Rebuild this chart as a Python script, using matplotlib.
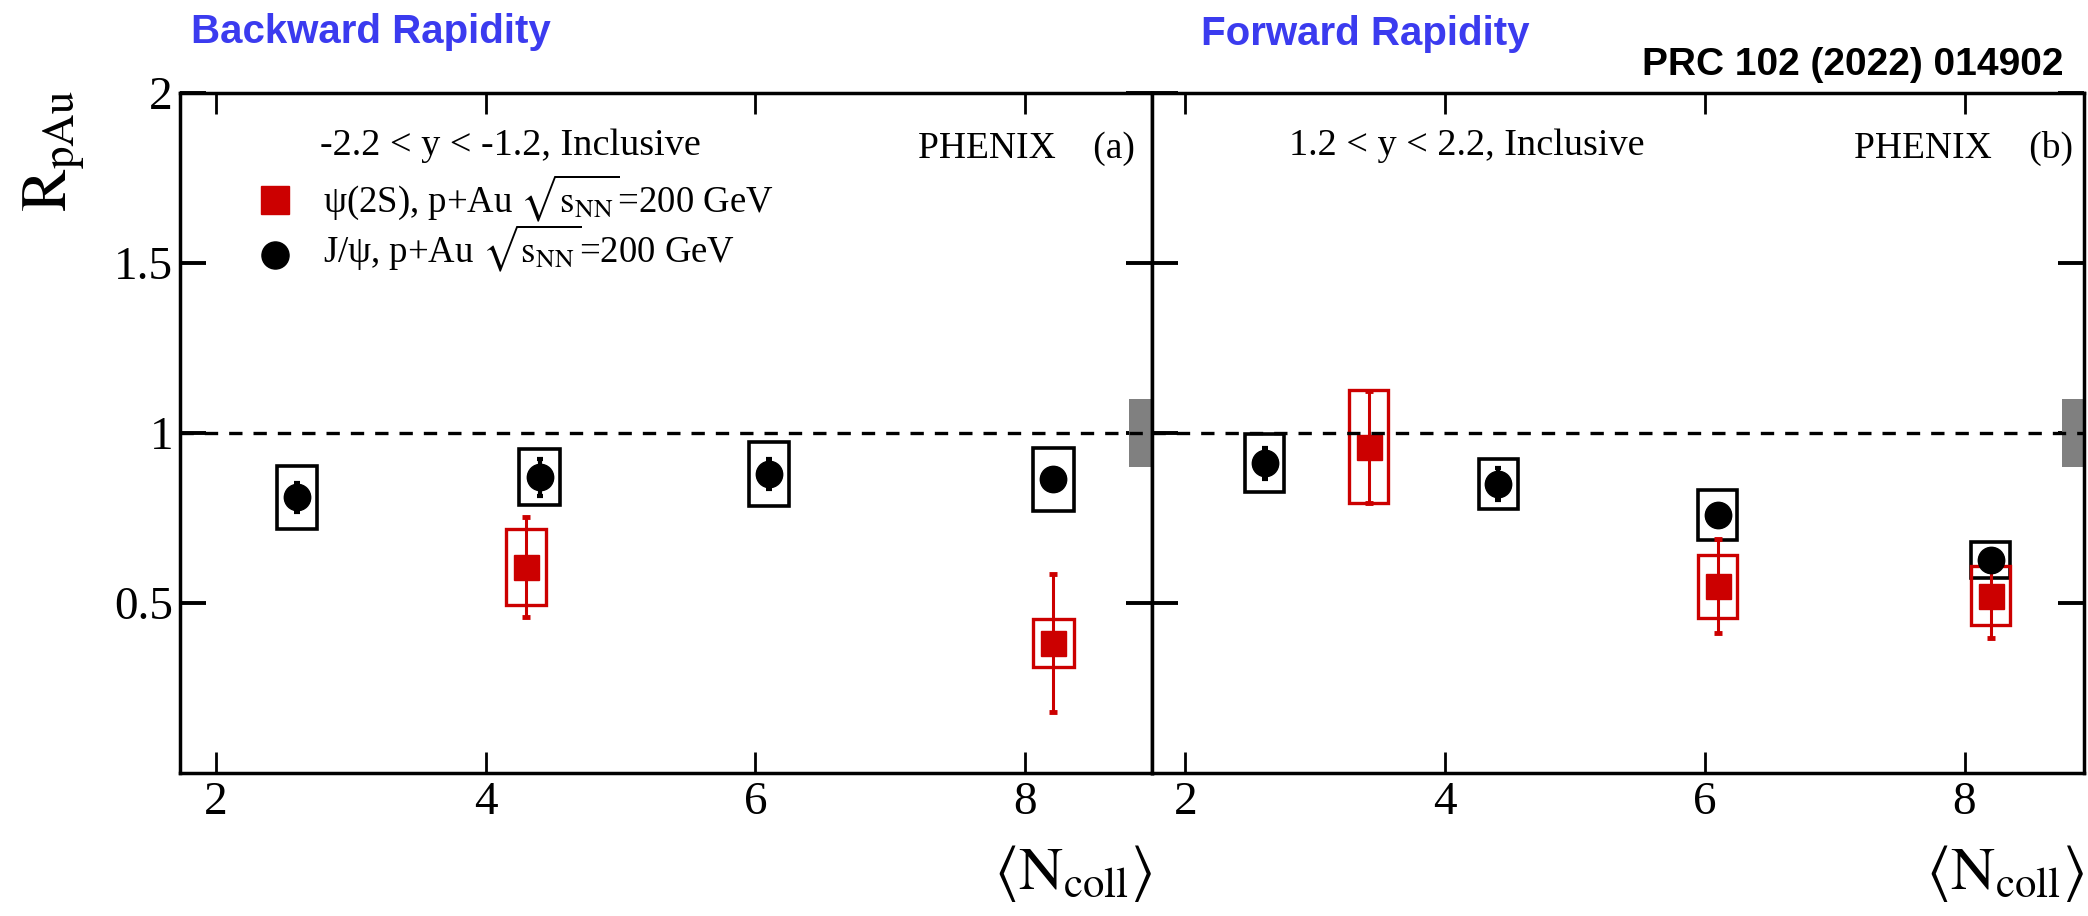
import matplotlib
matplotlib.use("Agg")
import matplotlib.pyplot as plt
from matplotlib.patches import Rectangle
import matplotlib.transforms as mtransforms

plt.rcParams['font.family'] = ['Liberation Serif', 'DejaVu Serif']
plt.rcParams['mathtext.fontset'] = 'stix'

# ---------------- data ----------------
# Backward rapidity (-2.2 < y < -1.2)
jpsi_back_ncoll = [2.60, 4.40, 6.10, 8.21]
jpsi_back_r = [0.811, 0.870, 0.880, 0.864]
jpsi_back_stat = [0.043, 0.055, 0.044, 0.030]
jpsi_back_sys = [0.093, 0.083, 0.094, 0.093]

psi2s_back_ncoll = [4.30, 8.21]
psi2s_back_r = [0.607, 0.382]
psi2s_back_stat = [0.147, 0.203]
psi2s_back_sys = [0.112, 0.071]

# Forward rapidity (1.2 < y < 2.2)
jpsi_fwd_ncoll = [2.61, 4.41, 6.10, 8.20]
jpsi_fwd_r = [0.911, 0.850, 0.759, 0.627]
jpsi_fwd_stat = [0.045, 0.046, 0.020, 0.020]
jpsi_fwd_sys = [0.085, 0.074, 0.074, 0.053]

psi2s_fwd_ncoll = [3.41, 6.10, 8.20]
psi2s_fwd_r = [0.960, 0.549, 0.521]
psi2s_fwd_stat = [0.165, 0.138, 0.124]
psi2s_fwd_sys = [0.167, 0.092, 0.087]

global_unc = 0.10

x_ticks = [2, 4, 6, 8]
y_ticks = [0.5, 1, 1.5, 2]
y_ticklabels = ['0.5', '1', '1.5', '2']

RED = '#cc0000'
BLUE = '#3b3bef'
BOX_HW = 0.15

# ---------------- figure ----------------
W, H = 2088, 916
fig = plt.figure(figsize=(W / 100, H / 100), dpi=100)


def px_axes(x0, x1, y0, y1):
    return fig.add_axes([x0 / W, 1 - y1 / H, (x1 - x0) / W, (y1 - y0) / H])


ax_b = px_axes(180, 1152, 93, 773)
ax_f = px_axes(1152, 2084, 93, 773)


def style_axes(ax, xlim, show_ylabels):
    ax.set_xlim(*xlim)
    ax.set_ylim(0, 2)
    ax.set_xticks(x_ticks)
    ax.set_xticklabels([str(t) for t in x_ticks])
    ax.set_yticks(y_ticks)
    if show_ylabels:
        ax.set_yticklabels(y_ticklabels)
    else:
        ax.set_yticklabels([])
    for s in ax.spines.values():
        s.set_linewidth(2.5)
    ax.tick_params(axis='both', which='major', direction='in',
                   top=True, right=True, labelsize=34)
    ax.tick_params(axis='y', length=19, width=2.8, pad=5)
    ax.tick_params(axis='x', length=15, width=2.0, pad=6)


def draw_boxes(ax, xs, ys, sys, color, lw):
    for x, y, s in zip(xs, ys, sys):
        ax.add_patch(Rectangle((x - BOX_HW, y - s), 2 * BOX_HW, 2 * s,
                               fill=False, edgecolor=color, linewidth=lw,
                               zorder=3))


def draw_panel(ax, jx, jy, jst, jsy, px, py, pst, psy):
    # global normalisation uncertainty at unity
    trans = mtransforms.blended_transform_factory(ax.transAxes, ax.transData)
    ax.add_patch(Rectangle((1 - 0.024, 1 - global_unc), 0.024, 2 * global_unc,
                           transform=trans, facecolor='#808080',
                           edgecolor='none', zorder=2))
    draw_boxes(ax, jx, jy, jsy, 'black', 2.6)
    draw_boxes(ax, px, py, psy, RED, 2.4)
    ax.errorbar(px, py, yerr=pst, fmt='s', color=RED, ms=18, mec=RED,
                elinewidth=2.2, capsize=3, capthick=3.5, zorder=4)
    ax.errorbar(jx, jy, yerr=jst, fmt='o', color='black', ms=19,
                elinewidth=3, capsize=2, capthick=3, zorder=5)
    ax.axhline(1.0, color='black', lw=2.4, linestyle=(0, (4, 3.3)), zorder=6)


style_axes(ax_b, (1.733, 8.942), True)
style_axes(ax_f, (1.742, 8.920), False)

draw_panel(ax_b, jpsi_back_ncoll, jpsi_back_r, jpsi_back_stat, jpsi_back_sys,
           psi2s_back_ncoll, psi2s_back_r, psi2s_back_stat, psi2s_back_sys)
draw_panel(ax_f, jpsi_fwd_ncoll, jpsi_fwd_r, jpsi_fwd_stat, jpsi_fwd_sys,
           psi2s_fwd_ncoll, psi2s_fwd_r, psi2s_fwd_stat, psi2s_fwd_sys)

# ---------------- panel annotations ----------------
ax_b.text(0.144, 0.909, '-2.2 < y < -1.2, Inclusive', transform=ax_b.transAxes,
          fontsize=27.5, ha='left', va='baseline')
ax_b.text(0.9825, 0.904, 'PHENIX    (a)', transform=ax_b.transAxes,
          fontsize=27, ha='right', va='baseline')
ax_f.text(0.147, 0.909, '1.2 < y < 2.2, Inclusive', transform=ax_f.transAxes,
          fontsize=27.5, ha='left', va='baseline')
ax_f.text(0.988, 0.904, 'PHENIX    (b)', transform=ax_f.transAxes,
          fontsize=27, ha='right', va='baseline')

# legend
ax_b.plot([0.0977], [0.8426], 's', color=RED, ms=19.5, transform=ax_b.transAxes,
          clip_on=False)
ax_b.plot([0.0977], [0.7618], 'o', color='black', ms=19.5,
          transform=ax_b.transAxes, clip_on=False)
ax_b.text(0.147, 0.825,
          r'ψ(2S), p+Au $\sqrt{\mathrm{s}_{\mathrm{NN}}}$=200 GeV',
          transform=ax_b.transAxes, fontsize=26.5, ha='left', va='baseline')
ax_b.text(0.147, 0.7515,
          r'J/ψ, p+Au $\sqrt{\mathrm{s}_{\mathrm{NN}}}$=200 GeV',
          transform=ax_b.transAxes, fontsize=26.5, ha='left', va='baseline')

# axis titles
for ax in (ax_b, ax_f):
    ax.text(1.0, -0.103, r'$\left\langle \mathrm{N}_{\mathrm{coll}} \right\rangle$',
            transform=ax.transAxes, fontsize=44, ha='right', va='top')

fig.text(54 / W, 1 - 90 / H, r'$\mathrm{R}_{\mathrm{pAu}}$', rotation=90,
         fontsize=46, ha='center', va='top')

# headers
fig.text(191 / W, 1 - 43 / H, 'Backward Rapidity', color=BLUE, fontsize=29,
         fontweight='bold', family='Liberation Sans', ha='left', va='baseline')
fig.text(1201 / W, 1 - 45 / H, 'Forward Rapidity', color=BLUE, fontsize=29,
         fontweight='bold', family='Liberation Sans', ha='left', va='baseline')
fig.text(2063 / W, 1 - 75 / H, 'PRC 102 (2022) 014902', color='black',
         fontsize=28, fontweight='bold', family='Liberation Sans',
         ha='right', va='baseline')

fig.savefig('out.png', dpi=100)
